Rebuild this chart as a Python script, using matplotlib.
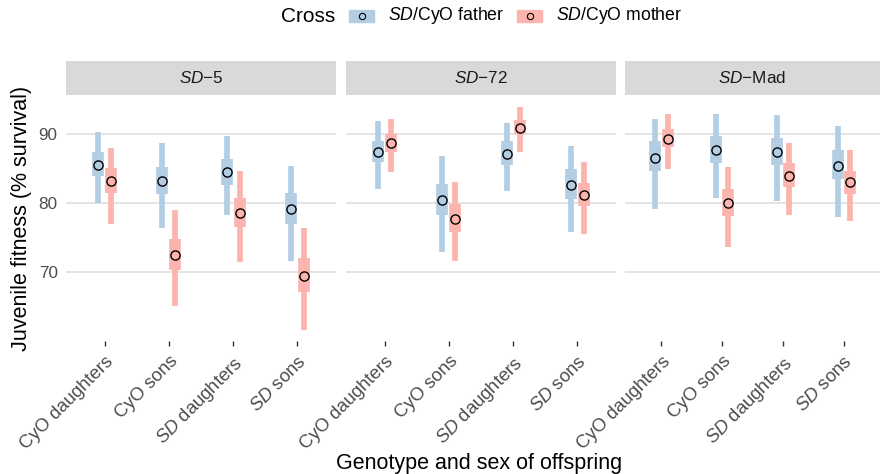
import numpy as np
import matplotlib
matplotlib.use("Agg")
import matplotlib.pyplot as plt
from matplotlib.patches import Rectangle
from matplotlib.lines import Line2D

plt.rcParams['font.family'] = ['Liberation Sans', 'DejaVu Sans']
plt.rcParams['mathtext.fontset'] = 'custom'
plt.rcParams['mathtext.rm'] = 'Liberation Sans'
plt.rcParams['mathtext.it'] = 'Liberation Sans:italic'

# data
panels = ['$\\it{SD}$\u22125', '$\\it{SD}$\u221272', '$\\it{SD}$\u2212Mad']
categories = ['CyO daughters', 'CyO sons', '$\\it{SD}$ daughters', '$\\it{SD}$ sons']
crosses = ['$\\it{SD}$/CyO father', '$\\it{SD}$/CyO mother']

# per panel: rows = category, cols = (median, lo50, hi50, lo95, hi95)
father = [
    [[85.6, 84.0, 87.5, 80.0, 90.3],
     [83.2, 81.3, 85.3, 76.4, 88.7],
     [84.5, 82.6, 86.4, 78.2, 89.7],
     [79.1, 77.0, 81.5, 71.6, 85.4]],
    [[87.5, 86.0, 89.1, 82.1, 91.9],
     [80.4, 78.2, 82.8, 72.8, 86.9],
     [87.2, 85.6, 89.0, 81.7, 91.7],
     [82.7, 80.6, 84.9, 75.8, 88.3]],
    [[86.6, 84.6, 89.0, 79.2, 92.2],
     [87.7, 85.8, 89.8, 80.8, 93.0],
     [87.4, 85.5, 89.5, 80.3, 92.8],
     [85.4, 83.5, 87.7, 78.0, 91.2]],
]
mother = [
    [[83.2, 81.5, 85.1, 76.9, 88.0],
     [72.5, 70.2, 74.8, 65.0, 79.0],
     [78.5, 76.5, 80.8, 71.4, 84.6],
     [69.4, 67.0, 72.0, 61.5, 76.3]],
    [[88.7, 87.5, 90.0, 84.5, 92.2],
     [77.7, 75.8, 79.8, 71.5, 83.1],
     [91.0, 90.0, 92.1, 87.4, 94.0],
     [81.2, 79.5, 82.9, 75.5, 86.0]],
    [[89.4, 88.1, 90.8, 84.9, 93.0],
     [80.0, 78.1, 82.0, 73.6, 85.2],
     [84.0, 82.3, 85.8, 78.3, 88.8],
     [83.0, 81.3, 84.7, 77.4, 87.8]],
]

colors = ['#b3cde3', '#fbb4ae']
W, H = 880, 474
fig = plt.figure(figsize=(W / 100, H / 100), dpi=100)

panel_x = [(66, 336), (346, 616), (625, 880)]
ptop, pbot = 96, 341
strip_top, strip_bot = 61, 95
dodge = [-0.1, 0.1]
x = np.arange(1, len(categories) + 1)

for p, (x0, x1) in enumerate(panel_x):
    ax = fig.add_axes([x0 / W, 1 - pbot / H, (x1 - x0) / W, (pbot - ptop) / H])
    for s, series in enumerate([father[p], mother[p]]):
        d = np.array(series)
        xs = x + dodge[s]
        ax.vlines(xs, d[:, 3], d[:, 4], color=colors[s], lw=4.1, capstyle='butt', zorder=2)
        ax.vlines(xs, d[:, 1], d[:, 2], color=colors[s], lw=8.4, capstyle='butt', zorder=3)
        ax.plot(xs, d[:, 0], 'o', ms=6.6, mfc=colors[s], mec='black', mew=1.0, zorder=4)
    ax.set_xlim(0.4, 4.6)
    ax.set_ylim(59.9, 95.6)
    ax.set_yticks([70, 80, 90])
    ax.yaxis.grid(True, color='#dcdcdc', lw=1.1)
    ax.set_axisbelow(True)
    for sp in ax.spines.values():
        sp.set_visible(False)
    ax.set_xticks(x)
    ax.set_xticklabels(categories, rotation=45, ha='right', va='top',
                       rotation_mode='anchor', fontsize=13.3, color='#4d4d4d')
    ax.tick_params(axis='x', length=3.5, width=1.0, color='#333333', pad=5)
    ax.tick_params(axis='y', length=0, labelsize=12.3, labelcolor='#4d4d4d', pad=6)
    if p > 0:
        ax.set_yticklabels([])
    # strip
    sax = fig.add_axes([x0 / W, 1 - strip_bot / H, (x1 - x0) / W, (strip_bot - strip_top) / H])
    sax.set_facecolor('#d9d9d9')
    sax.set_xticks([])
    sax.set_yticks([])
    for sp in sax.spines.values():
        sp.set_visible(False)
    sax.text(0.5, 0.5, panels[p], ha='center', va='center', fontsize=12.3, color='#1a1a1a',
             transform=sax.transAxes)

fig.text(22 / W, 1 - 218 / H, 'Juvenile fitness (% survival)', rotation=90,
         ha='center', va='center', fontsize=15.5)
fig.text(479 / W, 1 - 464 / H, 'Genotype and sex of offspring',
         ha='center', va='center', fontsize=15.5)

# legend
ly = 1 - 16 / H
fig.text(308 / W, ly, 'Cross', ha='center', va='center', fontsize=15)
key_x = [349, 517]
text_x = [388, 556]
for s in range(2):
    fig.patches.append(Rectangle((key_x[s] / W, 1 - 22 / H), 25 / W, 12 / H,
                                 transform=fig.transFigure, color=colors[s]))
    fig.lines.append(Line2D([(key_x[s] + 12.5) / W], [ly], marker='o', ms=4.5,
                            mfc=colors[s], mec='black', mew=0.8,
                            transform=fig.transFigure))
    fig.text(text_x[s] / W, ly, crosses[s], ha='left', va='center', fontsize=12.7)

fig.savefig('out.png', dpi=100)
